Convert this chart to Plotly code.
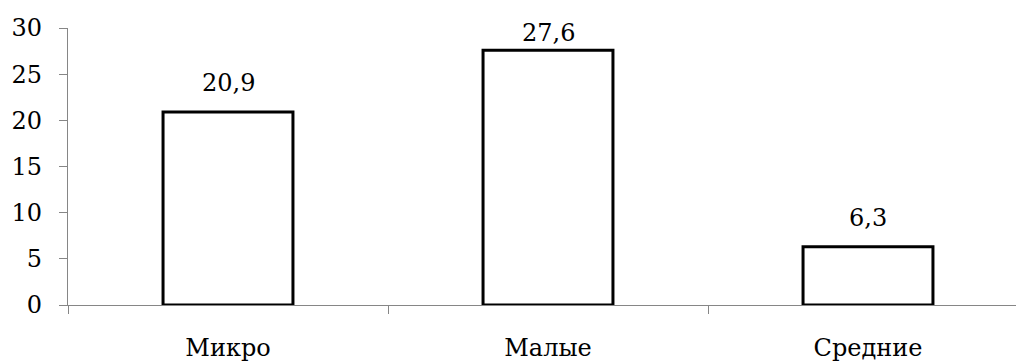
import plotly.graph_objects as go

categories = ["Микро", "Малые", "Средние"]
values = [20.9, 27.6, 6.3]
y_ticks = [0, 5, 10, 15, 20, 25, 30]

FONT = "DejaVu Serif"
AXIS = "#868686"

fig = go.Figure()
fig.add_trace(go.Bar(
    x=categories, y=values, width=0.406,
    marker=dict(color="white", line=dict(color="black", width=3)),
    hoverinfo="skip",
))

for c, v in zip(categories, values):
    fig.add_annotation(x=c, y=v, text=f"{v:.1f}".replace(".", ","),
                       showarrow=False, yanchor="bottom", yshift=min(13, (30 - v) * 9.22 - 21),
                       font=dict(family=FONT, size=24, color="black"))

fig.update_layout(
    width=1016, height=363,
    margin=dict(l=68, r=0, t=28, b=58),
    paper_bgcolor="white", plot_bgcolor="white",
    showlegend=False,
    separators=", ",
    font=dict(family=FONT, size=24, color="black"),
)
fig.update_xaxes(
    type="category", range=[-0.5, 2.4625],
    showline=True, linecolor=AXIS, linewidth=1.3,
    ticks="outside", tickson="boundaries", ticklen=8, tickcolor=AXIS, tickwidth=1.3,
    ticklabelstandoff=21, showgrid=False, zeroline=False,
)
fig.update_yaxes(
    range=[0, 30], tickvals=y_ticks,
    showline=True, linecolor=AXIS, linewidth=1.3,
    ticks="outside", ticklen=8, tickcolor=AXIS, tickwidth=1.3,
    ticklabelstandoff=12, showgrid=False, zeroline=False,
)

fig.write_html("out.html")
